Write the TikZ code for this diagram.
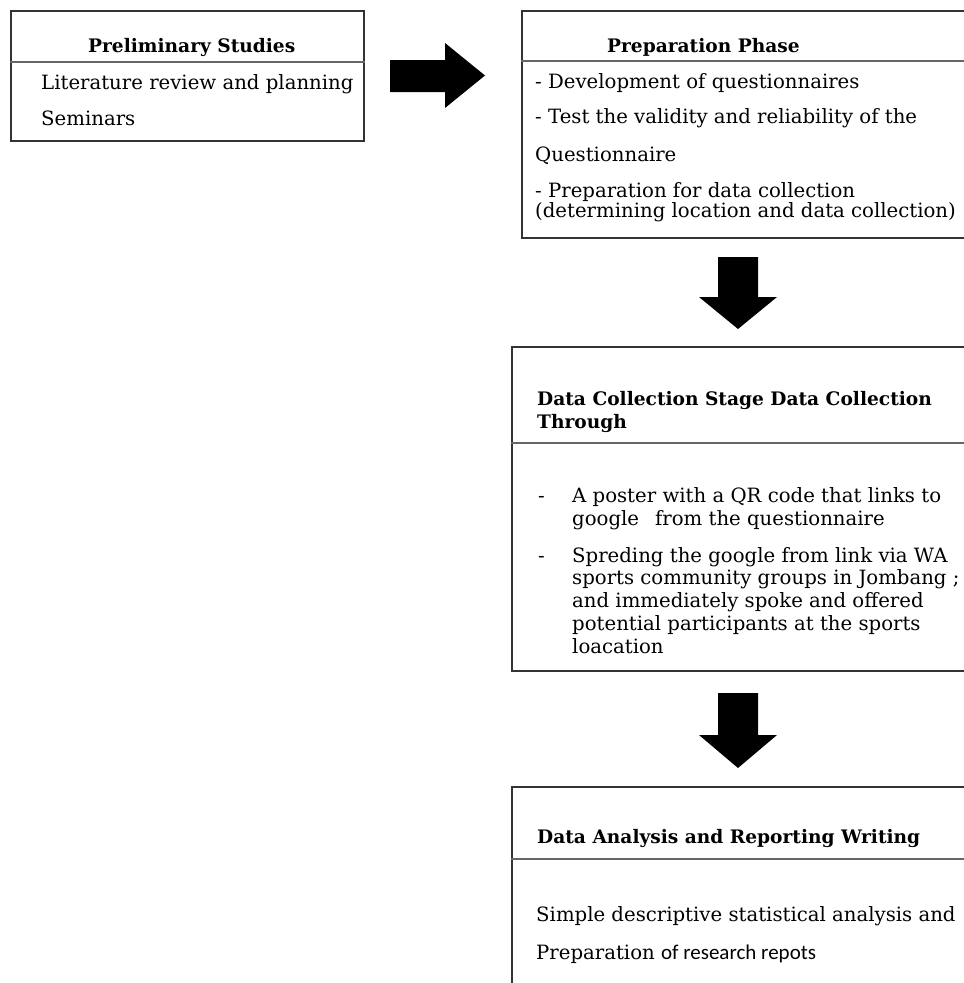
\documentclass[tikz,border=0pt]{standalone}
\usepackage{fontspec}
\setmainfont{DejaVu Serif}
\newfontfamily\calib{Carlito}
\begin{document}
\begin{tikzpicture}[x=1pt,y=-1pt,
  box/.style={draw=black!80,line width=1.6pt,rectangle,anchor=north west,inner sep=0pt},
  sep/.style={draw=black!60,line width=1.1pt},
  txt/.style={anchor=base west,inner sep=0pt,font=\fontsize{19.7}{23}\selectfont},
  ttl/.style={anchor=base west,inner sep=0pt,font=\fontsize{18.6}{22}\selectfont\bfseries},
  blk/.style={fill=black}]
\clip (0,0) rectangle (964,983);
\useasboundingbox (0,0) rectangle (964,983);
% boxes
\node[box,minimum width=353pt,minimum height=130pt] (b1) at (10,10) {};
\node[box,minimum width=470pt,minimum height=227pt] (b2) at (521,10) {};
\node[box,minimum width=480pt,minimum height=324pt] (b3) at (511,346) {};
\node[box,minimum width=480pt,minimum height=260pt] (b4) at (511,786) {};
% separators
\draw[sep] (b1.west |- 0,62) -- (b1.east |- 0,62);
\draw[sep] (b2.west |- 0,61) -- (b2.east |- 0,61);
\draw[sep] (b3.west |- 0,443) -- (b3.east |- 0,443);
\draw[sep] (b4.west |- 0,859) -- (b4.east |- 0,859);
% box 1 text
\node[ttl] (t1) at (88,52) {Preliminary Studies};
\node[txt] (t1a) at (41,89) {Literature review and planning};
\node[txt] (t1b) at (41,125) {Seminars};
% box 2 text
\node[ttl] (t2) at (607,52) {Preparation Phase};
\node[txt] (t2a) at (535,88) {- Development of questionnaires};
\node[txt] (t2b) at (535,123) {- Test the validity and reliability of the};
\node[txt] (t2c) at (535,161) {Questionnaire};
\node[txt] (t2d) at (535,197) {- Preparation for data collection};
\node[txt] (t2e) at (535,217) {(determining location and data collection)};
% box 3 text
\node[ttl] (t3a) at (537,405) {Data Collection Stage Data Collection};
\node[ttl] (t3b) at (537,428) {Through};
\node[txt] (d1) at (538,502) {-};
\node[txt] (l1) at (572,502) {A poster with a QR code that links to};
\node[txt] (l2) at (572,525) {google\hspace{16pt}from the questionnaire};
\node[txt] (d2) at (538,562) {-};
\node[txt] (l3) at (572,562) {Spreding the google from link via WA};
\node[txt] (l4) at (572,584) {sports community groups in Jombang ;};
\node[txt] (l5) at (572,607) {and immediately spoke and offered};
\node[txt] (l6) at (572,630) {potential participants at the sports};
\node[txt] (l7) at (572,653) {loacation};
% box 4 text
\node[ttl] (t4) at (537,843) {Data Analysis and Reporting Writing};
\node[txt] (t4a) at (536,921) {Simple descriptive statistical analysis and};
\node[txt] (t4b) at (536,959) {Preparation {\calib\fontsize{21}{24}\selectfont of research repots}};
% block arrows
\fill[blk] (390,60) -- (445,60) -- (445,43) -- (485,75.5) -- (445,108) -- (445,92) -- (390,92) -- cycle;
\fill[blk] (718,257) -- (758,257) -- (758,297) -- (777,297) -- (738,329) -- (699,297) -- (718,297) -- cycle;
\fill[blk] (718,693) -- (758,693) -- (758,735) -- (777,735) -- (738,768) -- (699,735) -- (718,735) -- cycle;
\end{tikzpicture}
\end{document}
